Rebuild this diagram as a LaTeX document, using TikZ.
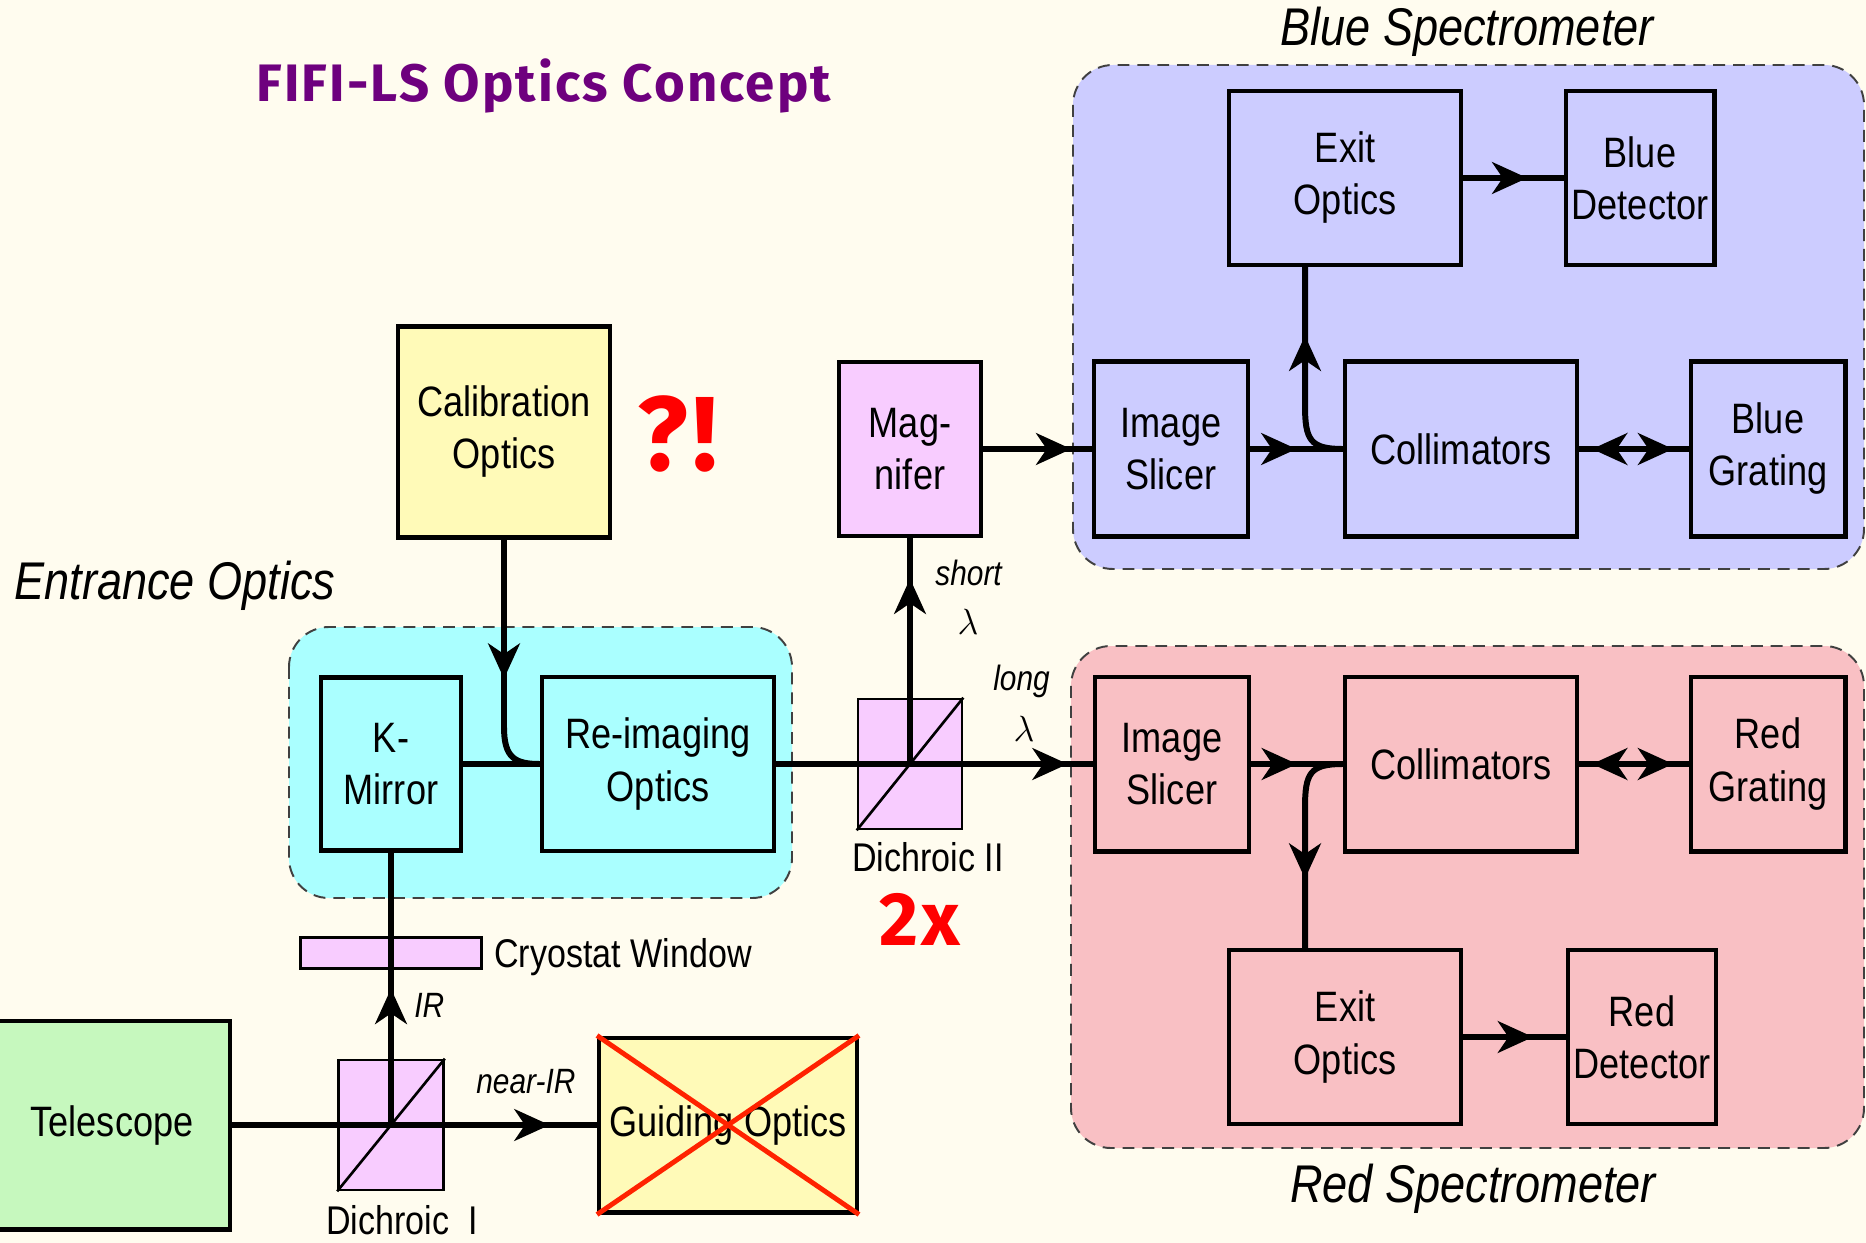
\documentclass[tikz,border=0pt]{standalone}
\usepackage{fontspec}
\setmainfont{Liberation Sans}[FakeStretch=0.85]
\newfontfamily\titlefont{Fira Sans}[LetterSpace=4]
\usetikzlibrary{arrows.meta,decorations.markings}

\definecolor{bgcream}{HTML}{FFFCEF}
\definecolor{bluebg}{HTML}{CCCCFF}
\definecolor{redbg}{HTML}{F9C0C4}
\definecolor{cyanbg}{HTML}{AAFFFF}
\definecolor{calyellow}{HTML}{FFFAB8}
\definecolor{telgreen}{HTML}{C6F8BE}
\definecolor{dichpink}{HTML}{F8CCFF}
\definecolor{titlepurple}{HTML}{6E007E}
\definecolor{crossred}{HTML}{FF2200}

\tikzset{
	>={Stealth[length=20pt,width=18pt,inset=6pt]},
	box/.style={draw, line width=2.3pt, inner sep=0pt, align=center, font=\fontsize{24.2}{29.6}\selectfont},
	wh/.style 2 args={minimum width=#1cm, minimum height=#2cm},
	dich/.style={draw, line width=1.5pt, fill=dichpink, inner sep=0pt},
	group/.style={draw=black!75, line width=1.1pt, dash pattern=on 6.8pt off 4.5pt, rounded corners=0.8cm},
	conn/.style={line width=3.4pt},
	tag/.style={inner sep=0pt, font=\fontsize{22.8}{27}\selectfont},
	note/.style={inner sep=0pt, font=\itshape\fontsize{20}{24}\selectfont},
	head/.style={inner sep=0pt, font=\itshape\fontsize{30.2}{36}\selectfont},
	arrowat/.style={postaction={decorate}, decoration={markings, mark=at position #1 with {\arrow{>}}}},
	bothat/.style={postaction={decorate}, decoration={markings, mark=at position 0.44 with {\arrow{<}}, mark=at position 0.86 with {\arrow{>}}}}
}

\begin{document}
\begin{tikzpicture}[x=0.02cm, y=-0.02cm]
				% Page
				\useasboundingbox (0,0) rectangle (1866,1243);
				\fill[bgcream] (0,0) rectangle (1866,1243);
				% Groups
				\draw[group, fill=cyanbg] (289,627) rectangle (792,898);
				\draw[group, fill=bluebg] (1073,65) rectangle (1864,569);
				\draw[group, fill=redbg] (1071,646) rectangle (1864,1148);
				% Entrance side
				\node[box, wh={4.24}{4.22}, fill=calyellow] (cal) at (504,432) {Calibration\\Optics};
				\node[box, wh={2.84}{3.48}, fill=dichpink] (mag) at (910,449) {Mag-\\nifer};
				\node[box, wh={2.8}{3.46}, fill=cyanbg] (kmir) at (391,764) {K-\\Mirror};
				\node[box, wh={4.64}{3.48}, fill=cyanbg] (reim) at (658,764) {Re-imaging\\Optics};
				\node[dich, wh={2.08}{2.6}] (dich2) at (910,764) {};
				\node[box, wh={4.72}{4.18}, fill=telgreen] (tel) at (112,1125) {Telescope};
				\node[dich, wh={2.1}{2.6}] (dich1) at (391,1125) {};
				\node[box, wh={5.16}{3.5}, fill=calyellow] (guide) at (728,1125) {Guiding Optics};
				\node[dich, wh={3.62}{0.62}] (win) at (391,953) {};
				% Blue spectrometer
				\node[box, wh={4.64}{3.48}] (exitb) at (1345,178) {Exit\\Optics};
				\node[box, wh={2.98}{3.48}] (detb) at (1640,178) {Blue\\Detector};
				\node[box, wh={3.08}{3.5}] (slib) at (1171,449) {Image\\Slicer};
				\node[box, wh={4.64}{3.5}] (colb) at (1461,449) {Collimators};
				\node[box, wh={3.1}{3.5}] (grab) at (1768,449) {Blue\\Grating};
				% Red spectrometer
				\node[box, wh={3.08}{3.5}] (slir) at (1172,764) {Image\\Slicer};
				\node[box, wh={4.64}{3.5}] (colr) at (1461,764) {Collimators};
				\node[box, wh={3.1}{3.5}] (grar) at (1768,764) {Red\\Grating};
				\node[box, wh={4.64}{3.48}] (exitr) at (1345,1037) {Exit\\Optics};
				\node[box, wh={2.96}{3.48}] (detr) at (1642,1037) {Red\\Detector};
				\coordinate (bfork) at (1305,449);
				\coordinate (rfork) at (1305,764);
				% Beams
				\draw[conn, arrowat=0.87] (tel.east) -- (guide.west);
				\draw[conn, arrowat=0.5] (dich1.center) -- (kmir.south);
				\draw[conn] (kmir.east) -- (reim.west);
				\draw[conn, arrowat=0.56] (cal.south) -- (504,727) .. controls (504,758) and (515,764) .. (reim.west);
				\draw[conn, arrowat=0.92] (reim.east) -- (slir.west);
				\draw[conn, arrowat=0.82] (dich2.center) -- (mag.south);
				\draw[conn, arrowat=0.81] (mag.east) -- (slib.west);
				\draw[conn, arrowat=0.5] (slib.east) -- (colb.west);
				\draw[conn, arrowat=0.67] (colb.west) .. controls (1310,449) and (1305,440) .. (1305,405) -- (exitb.south -| bfork);
				\draw[conn, arrowat=0.64] (exitb.east) -- (detb.west);
				\draw[conn, bothat] (colb.east) -- (grab.west);
				\draw[conn, arrowat=0.5] (slir.east) -- (colr.west);
				\draw[conn, arrowat=0.67] (colr.west) .. controls (1310,764) and (1305,773) .. (1305,808) -- (exitr.north -| rfork);
				\draw[conn, arrowat=0.68] (exitr.east) -- (detr.west);
				\draw[conn, bothat] (colr.east) -- (grar.west);
				% Dichroic mirrors
				\draw[line width=1.5pt] (dich1.south west) -- (dich1.north east);
				\draw[line width=1.5pt] (dich2.south west) -- (dich2.north east);
				% Crossed out
				\draw[crossred, line width=2.8pt] (guide.north west) -- (guide.south east) (guide.south west) -- (guide.north east);
				% Labels
				\node[anchor=base west, inner sep=0pt, text=titlepurple, font=\titlefont\bfseries\fontsize{30}{34}\selectfont] (title) at (256,102) {FIFI-LS Optics Concept};
				\node[anchor=base, inner sep=0pt, text=red, font=\titlefont\bfseries\fontsize{60}{64}\selectfont] (qmark) at (678,470) {?!};
				\node[anchor=base, inner sep=0pt, text=red, font=\titlefont\bfseries\fontsize{43}{48}\selectfont] (twox) at (920,945) {2x};
				\node[head, anchor=base west] (entlab) at (14,599) {Entrance Optics};
				\node[head, anchor=base] (bluelab) at (1467,46) {Blue Spectrometer};
				\node[head, anchor=base] (redlab) at (1473,1202) {Red Spectrometer};
				\node[tag, anchor=base west] (winlab) at (494,967) {Cryostat Window};
				\node[tag, anchor=base west] (d1lab) at (326,1234) {Dichroic\ \ I};
				\node[tag, anchor=base west] (d2lab) at (852,871) {Dichroic II};
				\node[note, anchor=base west] (irlab) at (414,1017) {IR};
				\node[note, anchor=base west] (nirlab) at (476,1093) {near-IR};
				\node[note, anchor=base west] (shortlab) at (935,585) {short};
				\node[anchor=base, inner sep=0pt, font=\fontsize{20}{24}\selectfont] (shortlam) at (968,634) {$\lambda$};
				\node[note, anchor=base west] (longlab) at (993,690) {long};
				\node[anchor=base, inner sep=0pt, font=\fontsize{20}{24}\selectfont] (longlam) at (1024,741) {$\lambda$};
\end{tikzpicture}
\end{document}
